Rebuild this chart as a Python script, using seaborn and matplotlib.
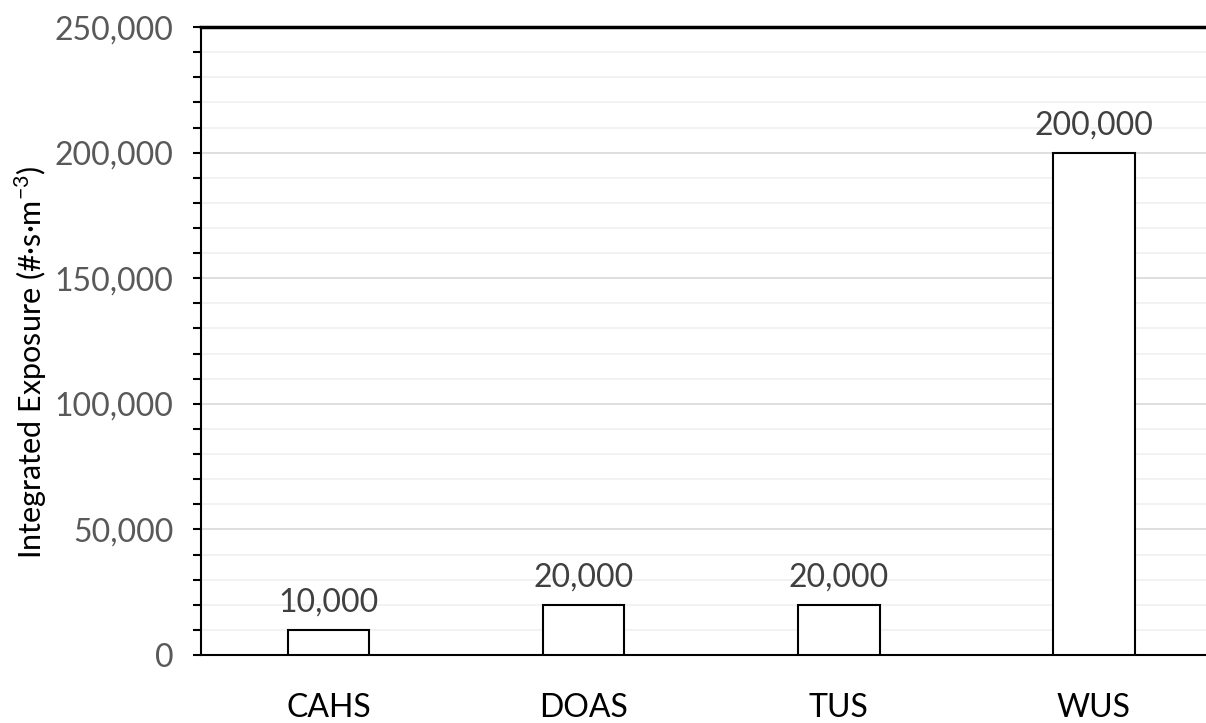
import numpy as np
import pandas as pd
import matplotlib
matplotlib.use('Agg')
import matplotlib.pyplot as plt
import seaborn as sns
from matplotlib.ticker import MultipleLocator, FuncFormatter

# data
sites = ['CAHS', 'DOAS', 'TUS', 'WUS']
exposure = [10000, 20000, 20000, 200000]

df = pd.DataFrame({'site': sites, 'exposure': exposure})

sns.set_style('white')
plt.rcParams['font.family'] = ['Lato', 'DejaVu Sans']
plt.rcParams['mathtext.fontset'] = 'custom'
plt.rcParams['mathtext.rm'] = 'Lato'

fig = plt.figure(figsize=(12.06, 7.23), dpi=100)
ax = fig.add_axes([0.1667, 0.094, 0.8333, 0.8686])

sns.barplot(data=df, x='site', y='exposure', color='white', edgecolor='black',
            linewidth=1.5, width=0.32, ax=ax, zorder=3)

ax.set_ylim(0, 250000)
ax.set_xlim(-0.5, 3.44)
ax.yaxis.set_major_locator(MultipleLocator(50000))
ax.yaxis.set_minor_locator(MultipleLocator(10000))
ax.yaxis.set_major_formatter(FuncFormatter(lambda v, p: f'{int(v):,}'))

ax.grid(axis='y', which='major', color='#d9d9d9', linewidth=1.2, zorder=0)
ax.grid(axis='y', which='minor', color='#f0f0f0', linewidth=1.2, zorder=0)
ax.set_axisbelow(True)

for side in ['left', 'bottom', 'top']:
    ax.spines[side].set_visible(True)
    ax.spines[side].set_color('black')
ax.spines['left'].set_linewidth(1.5)
ax.spines['bottom'].set_linewidth(1.5)
ax.spines['top'].set_linewidth(2.5)
ax.spines['right'].set_visible(False)

ax.tick_params(axis='y', which='major', direction='out', length=6, width=1.5,
               color='black', left=True, labelsize=23, labelcolor='#595959', pad=14)
ax.tick_params(axis='y', which='minor', direction='out', length=6, width=1.5,
               color='black', left=True)
ax.tick_params(axis='x', length=0, labelsize=23, labelcolor='black', pad=27)

ax.set_xlabel('')
ax.set_ylabel('Integrated Exposure (#·s·m$^{\\mathrm{-3}}$)', fontsize=22, color='black')
ax.yaxis.set_label_coords(-0.151, 0.466)

for i, v in enumerate(exposure):
    ax.annotate(f'{v:,}', (i, v), xytext=(0, 9), textcoords='offset points',
                ha='center', va='bottom', fontsize=23, color='#404040')

fig.savefig('out.png', dpi=100)
